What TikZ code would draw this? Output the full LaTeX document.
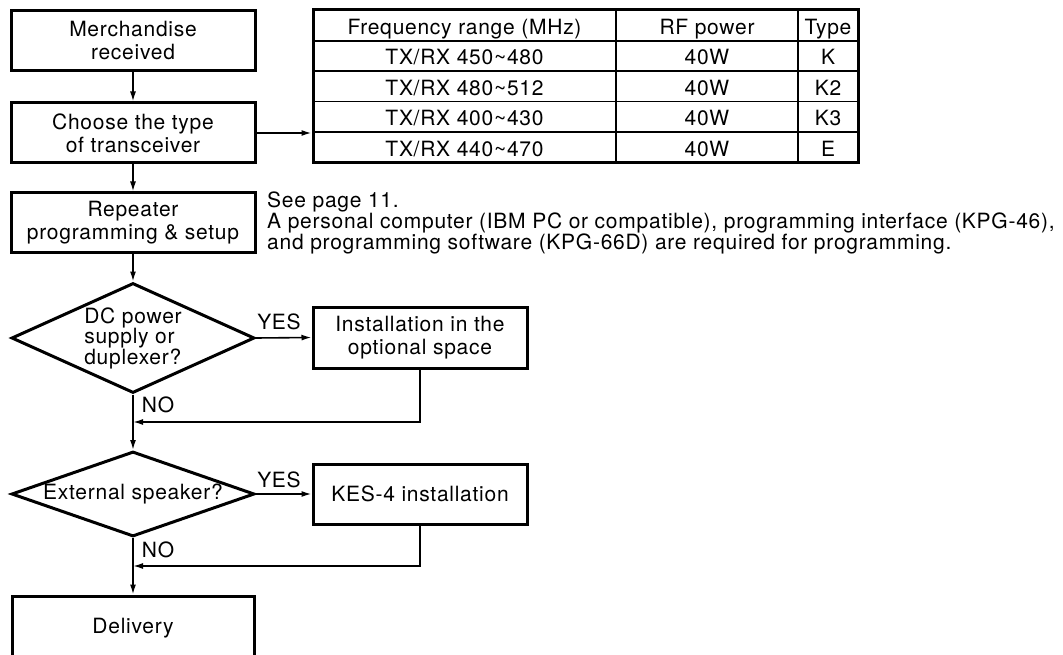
\documentclass[tikz,border=0pt]{standalone}
\usepackage{fontspec}
\setmainfont{TeX Gyre Heros}[LetterSpace=3.5]
\usetikzlibrary{shapes.geometric,arrows.meta}
\begin{document}
\begin{tikzpicture}[x=1pt,y=-1pt,
  every node/.style={font=\fontsize{21}{23}\selectfont, inner sep=0pt},
  box/.style={draw, line width=3pt, rectangle, align=center},
  dec/.style={draw, line width=3pt, diamond, align=left},
  conn/.style={line width=1.6pt},
  arr/.style={conn, -{Latex[length=10pt,width=6pt]}},
  cell/.style={anchor=base},
  grid/.style={line width=1.8pt},
]
\useasboundingbox (0,0) rectangle (1063,655);
\clip (0,0) rectangle (1063,655);

% left column
\node[box, minimum width=244pt, minimum height=60pt] (m) at (133,41) {Merchandise\\received};
\node[box, minimum width=244pt, minimum height=60pt] (c) at (133,133) {Choose the type\\of transceiver};
\node[box, minimum width=244pt, minimum height=60pt] (r) at (133,223) {Repeater\\programming \& setup};
\node[dec, aspect=2.2, minimum width=243pt, minimum height=110pt, font=\fontsize{21}{20.5}\selectfont] (d1) at (133,338) {DC power\\supply or\\duplexer?};
\node[box, minimum width=214pt, minimum height=61pt] (i) at (420,337.5) {Installation in the\\optional space};
\node[dec, aspect=2.86, minimum width=243pt, minimum height=85pt] (d2) at (133,494) {External speaker?};
\node[box, minimum width=214pt, minimum height=60pt] (k) at (420,494) {KES-4 installation};
\node[box, minimum width=242pt, minimum height=64pt] (del) at (133,628) {Delivery};

% table
\foreach \yy in {41,71,101.5,132} \draw[grid] (313,\yy) -- (858,\yy);
\foreach \xx in {616,798} \draw[grid] (\xx,10) -- (\xx,163);
\node[draw, line width=3pt, minimum width=545pt, minimum height=153pt] (tab) at (585.5,86.5) {};
\node[cell] (h1) at (464.5,35) {Frequency range (MHz)};
\node[cell] (h2) at (707,35) {RF power};
\node[cell] (h3) at (828,35) {Type};
\node[cell] (a1) at (464.5,65) {TX/RX 450\textasciitilde480};
\node[cell] (a2) at (707,65) {40W};
\node[cell] (a3) at (828,65) {K};
\node[cell] (b1) at (464.5,95.5) {TX/RX 480\textasciitilde512};
\node[cell] (b2) at (707,95.5) {40W};
\node[cell] (b3) at (828,95.5) {K2};
\node[cell] (c1) at (464.5,126) {TX/RX 400\textasciitilde430};
\node[cell] (c2) at (707,126) {40W};
\node[cell] (c3) at (828,126) {K3};
\node[cell] (e1) at (464.5,156.5) {TX/RX 440\textasciitilde470};
\node[cell] (e2) at (707,156.5) {40W};
\node[cell] (e3) at (828,156.5) {E};

% note
\node[anchor=north west, align=left, font=\fontsize{21}{20}\selectfont] (note) at (267,191.5)
  {See page 11.\\A personal computer (IBM PC or compatible), programming interface (KPG-46),\\and programming software (KPG-66D) are required for programming.};

% labels
\node (yes1) at (279,322) {YES};
\node (no1) at (158,405) {NO};
\node (yes2) at (279,480) {YES};
\node (no2) at (158,550) {NO};

% connectors
\coordinate (j1) at (133,422);
\coordinate (j2) at (133,566);
\draw[arr] (m) -- (c);
\draw[arr] (c) -- (r);
\draw[arr] (c.east) -- (c.east -| tab.west);
\draw[arr] (r) -- (d1);
\draw[arr] (d1.east) -- (i.west);
\draw[arr] (d1.south) -- (d2.north);
\draw[arr] (i.south) |- (j1);
\draw[arr] (d2.east) -- (k.west);
\draw[arr] (d2.south) -- (del.north);
\draw[arr] (k.south) |- (j2);
\end{tikzpicture}
\end{document}
